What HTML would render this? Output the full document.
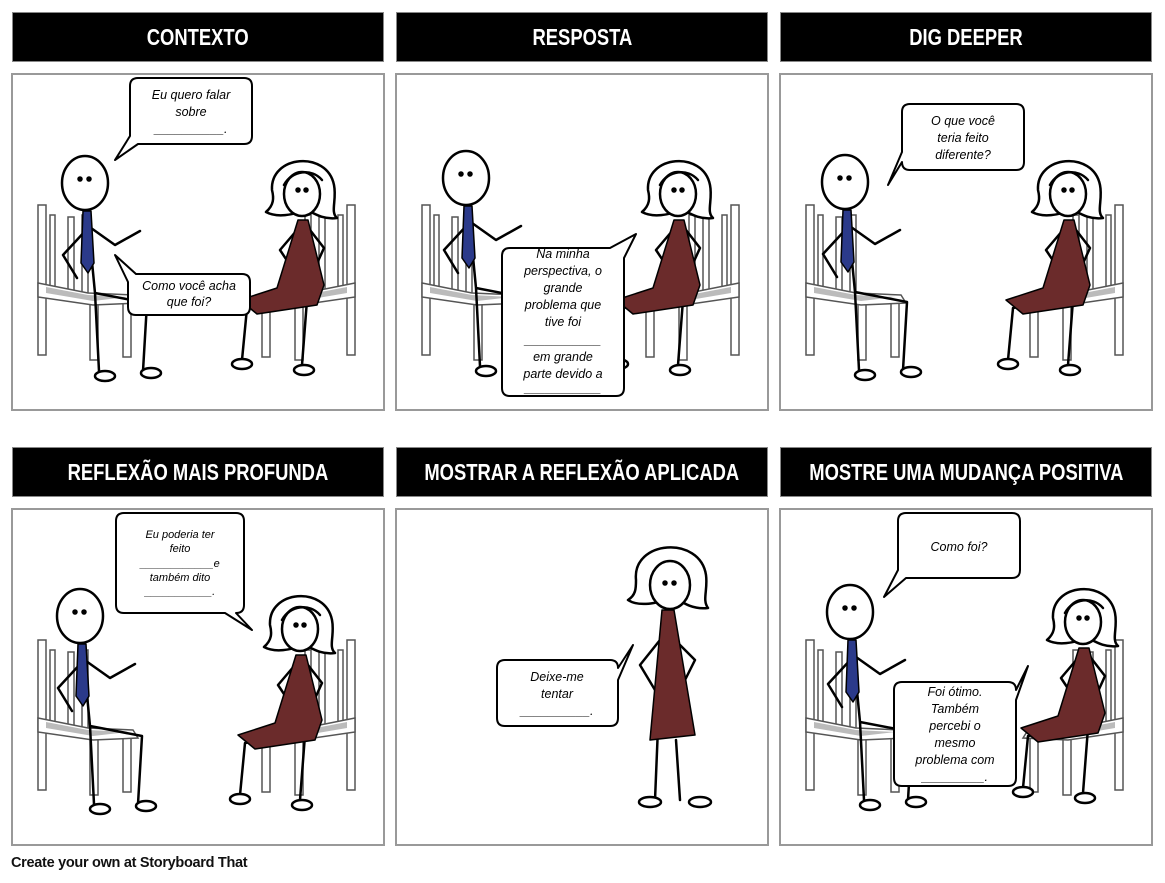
<!DOCTYPE html>
<html><head><meta charset="utf-8"><style>
body{margin:0;background:#fff;width:1165px;height:883px;overflow:hidden;font-family:"Liberation Sans",sans-serif}
.h{position:absolute;height:48px;width:370px;background:#000;border:1px solid #888;color:#fff;font-family:"Liberation Sans",sans-serif;font-weight:bold;font-size:23px;display:flex;justify-content:center;align-items:center;white-space:nowrap;overflow:visible}
.h span{display:inline-block;transform:scaleX(0.8);flex:none}
.p{position:absolute;box-sizing:border-box;border:2px solid #999}
svg{position:absolute;left:0;top:0}
.ft{position:absolute;left:11px;top:855px;font-size:14.5px;font-weight:bold;color:#111;letter-spacing:-0.3px}
</style></head><body>
<div class="h" style="left:12px;top:12px"><span>CONTEXTO</span></div>
<div class="h" style="left:396px;top:12px"><span>RESPOSTA</span></div>
<div class="h" style="left:780px;top:12px"><span>DIG DEEPER</span></div>
<div class="h" style="left:12px;top:447px"><span>REFLEXÃO MAIS PROFUNDA</span></div>
<div class="h" style="left:396px;top:447px"><span>MOSTRAR A REFLEXÃO APLICADA</span></div>
<div class="h" style="left:780px;top:447px"><span>MOSTRE UMA MUDANÇA POSITIVA</span></div>
<div class="p" style="left:11px;top:73px;width:374px;height:338px"></div>
<div class="p" style="left:395px;top:73px;width:374px;height:338px"></div>
<div class="p" style="left:779px;top:73px;width:374px;height:338px"></div>
<div class="p" style="left:11px;top:508px;width:374px;height:338px"></div>
<div class="p" style="left:395px;top:508px;width:374px;height:338px"></div>
<div class="p" style="left:779px;top:508px;width:374px;height:338px"></div>
<svg width="1165" height="883" viewBox="0 0 1165 883">
<defs>
<g id="chair" fill="#fff" stroke="#555" stroke-width="1.5">
<rect x="0" y="0" width="8" height="150"/>
<rect x="30" y="12" width="6" height="80"/>
<rect x="12" y="10" width="5" height="80"/>
<rect x="44" y="10" width="6" height="85"/>
<rect x="52" y="90" width="8" height="65"/>
<rect x="85" y="92" width="8" height="60"/>
<path d="M0 78 L50 88 L95 90 L100 98 L55 100 L0 92Z" fill="#fff"/>
<path d="M8 82 L50 90 L90 92 L55 96 L8 88Z" fill="#bbb" stroke="none"/>
</g>
<g id="man" fill="none" stroke="#000" stroke-width="2.5" stroke-linecap="round" stroke-linejoin="round">
<path d="M2 27 L10 110 M3 45 L-22 72 L-8 95 M6 45 L30 62 L55 48 M10 110 L62 120 L58 188 M10 110 L14 188"/>
<path d="M-2 28 L6 28 L9 80 L3 90 L-4 80Z" fill="#2b3a8a" stroke-width="1.5"/>
<ellipse cx="0" cy="0" rx="23" ry="27" fill="#fff"/>
<ellipse cx="66" cy="190" rx="10" ry="5" fill="#fff"/>
<ellipse cx="20" cy="193" rx="10" ry="5" fill="#fff"/>
<circle cx="-5" cy="-4" r="1.5" fill="#000"/><circle cx="4" cy="-4" r="1.5" fill="#000"/>
</g>
<g id="woman" fill="none" stroke="#000" stroke-width="2.5" stroke-linecap="round" stroke-linejoin="round">
<path d="M-10 110 L-55 118 L-60 170 M5 110 L0 175 M-5 40 L-22 60 L-10 78 M8 40 L22 58 L12 80"/>
<path d="M-4 30 L6 30 L22 95 L15 115 L-45 124 L-62 110 L-25 98Z" fill="#6b2b2b" stroke-width="1.5"/>
<path d="M-30 0 C-32 -35 25 -40 32 -5 C35 10 28 22 35 28 C20 30 10 22 5 20 C-10 25 -25 28 -36 22 C-28 15 -28 8 -30 0Z" fill="#fff"/>
<ellipse cx="0" cy="4" rx="18" ry="22" fill="#fff"/>
<path d="M-18 -5 C-10 -20 10 -22 20 -10"/>
<ellipse cx="-60" cy="174" rx="10" ry="5" fill="#fff"/>
<ellipse cx="2" cy="180" rx="10" ry="5" fill="#fff"/>
<circle cx="-4" cy="0" r="1.5" fill="#000"/><circle cx="4" cy="0" r="1.5" fill="#000"/>
</g>
</defs>
<use href="#chair" x="38" y="205"/>
<g transform="translate(355,205) scale(-1,1)"><use href="#chair"/></g>
<use href="#man" x="85" y="183"/>
<use href="#woman" x="302" y="190"/>
<use href="#chair" x="422" y="205"/>
<g transform="translate(739,205) scale(-1,1)"><use href="#chair"/></g>
<use href="#man" x="466" y="178"/>
<use href="#woman" x="678" y="190"/>
<use href="#chair" x="806" y="205"/>
<g transform="translate(1123,205) scale(-1,1)"><use href="#chair"/></g>
<use href="#man" x="845" y="182"/>
<use href="#woman" x="1068" y="190"/>
<use href="#chair" x="38" y="640"/>
<g transform="translate(355,640) scale(-1,1)"><use href="#chair"/></g>
<use href="#man" x="80" y="616"/>
<use href="#woman" x="300" y="625"/>
<g fill="none" stroke="#000" stroke-width="2.5" stroke-linecap="round" stroke-linejoin="round">
<path d="M662 630 L655 800 M676 740 L680 800 M660 640 L640 665 L655 690 M675 640 L695 660 L685 680"/>
<path d="M662 610 L674 610 L695 735 L650 740Z" fill="#6b2b2b" stroke-width="1.5"/>
<path d="M636 580 C632 540 700 535 706 575 C708 590 702 600 708 608 C690 610 680 600 676 598 C660 602 640 608 628 600 C636 595 636 588 636 580Z" fill="#fff"/>
<ellipse cx="670" cy="585" rx="20" ry="24" fill="#fff"/>
<circle cx="665" cy="583" r="1.5" fill="#000"/><circle cx="674" cy="583" r="1.5" fill="#000"/>
<ellipse cx="650" cy="802" rx="11" ry="5" fill="#fff"/><ellipse cx="700" cy="802" rx="11" ry="5" fill="#fff"/>
</g>
<use href="#chair" x="806" y="640"/>
<g transform="translate(1123,640) scale(-1,1)"><use href="#chair"/></g>
<use href="#man" x="850" y="612"/>
<use href="#woman" x="1083" y="618"/>
<g fill="#fff" stroke="#000" stroke-width="2" stroke-linejoin="round">
<path d="M138 78 H244 Q252 78 252 86 V136 Q252 144 244 144 H138 L115 160 L130 136 V86 Q130 78 138 78Z"/>
<path d="M136 274 H242 Q250 274 250 282 V307 Q250 315 242 315 H136 Q128 315 128 307 V282 L115 255 L136 274Z"/>
<path d="M510 248 H610 L636 234 L624 258 V388 Q624 396 616 396 H510 Q502 396 502 388 V256 Q502 248 510 248Z"/>
<path d="M910 104 H1016 Q1024 104 1024 112 V162 Q1024 170 1016 170 H910 Q902 170 902 162 L888 185 L902 152 V112 Q902 104 910 104Z"/>
<path d="M124 513 H236 Q244 513 244 521 V605 Q244 613 236 613 L252 630 L225 613 H124 Q116 613 116 605 V521 Q116 513 124 513Z"/>
<path d="M505 660 H610 Q618 660 618 668 L633 645 L618 680 V718 Q618 726 610 726 H505 Q497 726 497 718 V668 Q497 660 505 660Z"/>
<path d="M906 513 H1012 Q1020 513 1020 521 V570 Q1020 578 1012 578 H906 L884 597 L898 570 V521 Q898 513 906 513Z"/>
<path d="M902 682 H1008 Q1016 682 1016 690 L1028 666 L1016 700 V778 Q1016 786 1008 786 H902 Q894 786 894 778 V690 Q894 682 902 682Z"/>
</g>
<g font-family="Liberation Sans, sans-serif" font-size="12.5" font-style="italic" text-anchor="middle" fill="#000">
<text x="191" y="99">Eu quero falar</text><text x="191" y="116">sobre</text><text x="191" y="133">__________.</text>
<text x="189" y="290">Como você acha</text><text x="189" y="306">que foi?</text>
<text x="563" y="258">Na minha</text><text x="563" y="275">perspectiva, o</text><text x="563" y="292">grande</text><text x="563" y="309">problema que</text><text x="563" y="326">tive foi</text><text x="563" y="344">___________</text><text x="563" y="361">em grande</text><text x="563" y="378">parte devido a</text><text x="563" y="392">___________</text>
<text x="963" y="125">O que você</text><text x="963" y="142">teria feito</text><text x="963" y="159">diferente?</text>
<text x="180" y="538" font-size="11">Eu poderia ter</text><text x="180" y="552" font-size="11">feito</text><text x="180" y="567" font-size="11">____________e</text><text x="180" y="581" font-size="11">também dito</text><text x="180" y="595" font-size="11">___________.</text>
<text x="557" y="681">Deixe-me</text><text x="557" y="698">tentar</text><text x="557" y="715">__________.</text>
<text x="959" y="551">Como foi?</text>
<text x="955" y="696">Foi ótimo.</text><text x="955" y="713">Também</text><text x="955" y="730">percebi o</text><text x="955" y="747">mesmo</text><text x="955" y="764">problema com</text><text x="955" y="781">_________.</text>
</g>
</svg>
<div class="ft">Create your own at Storyboard That</div>
</body></html>
